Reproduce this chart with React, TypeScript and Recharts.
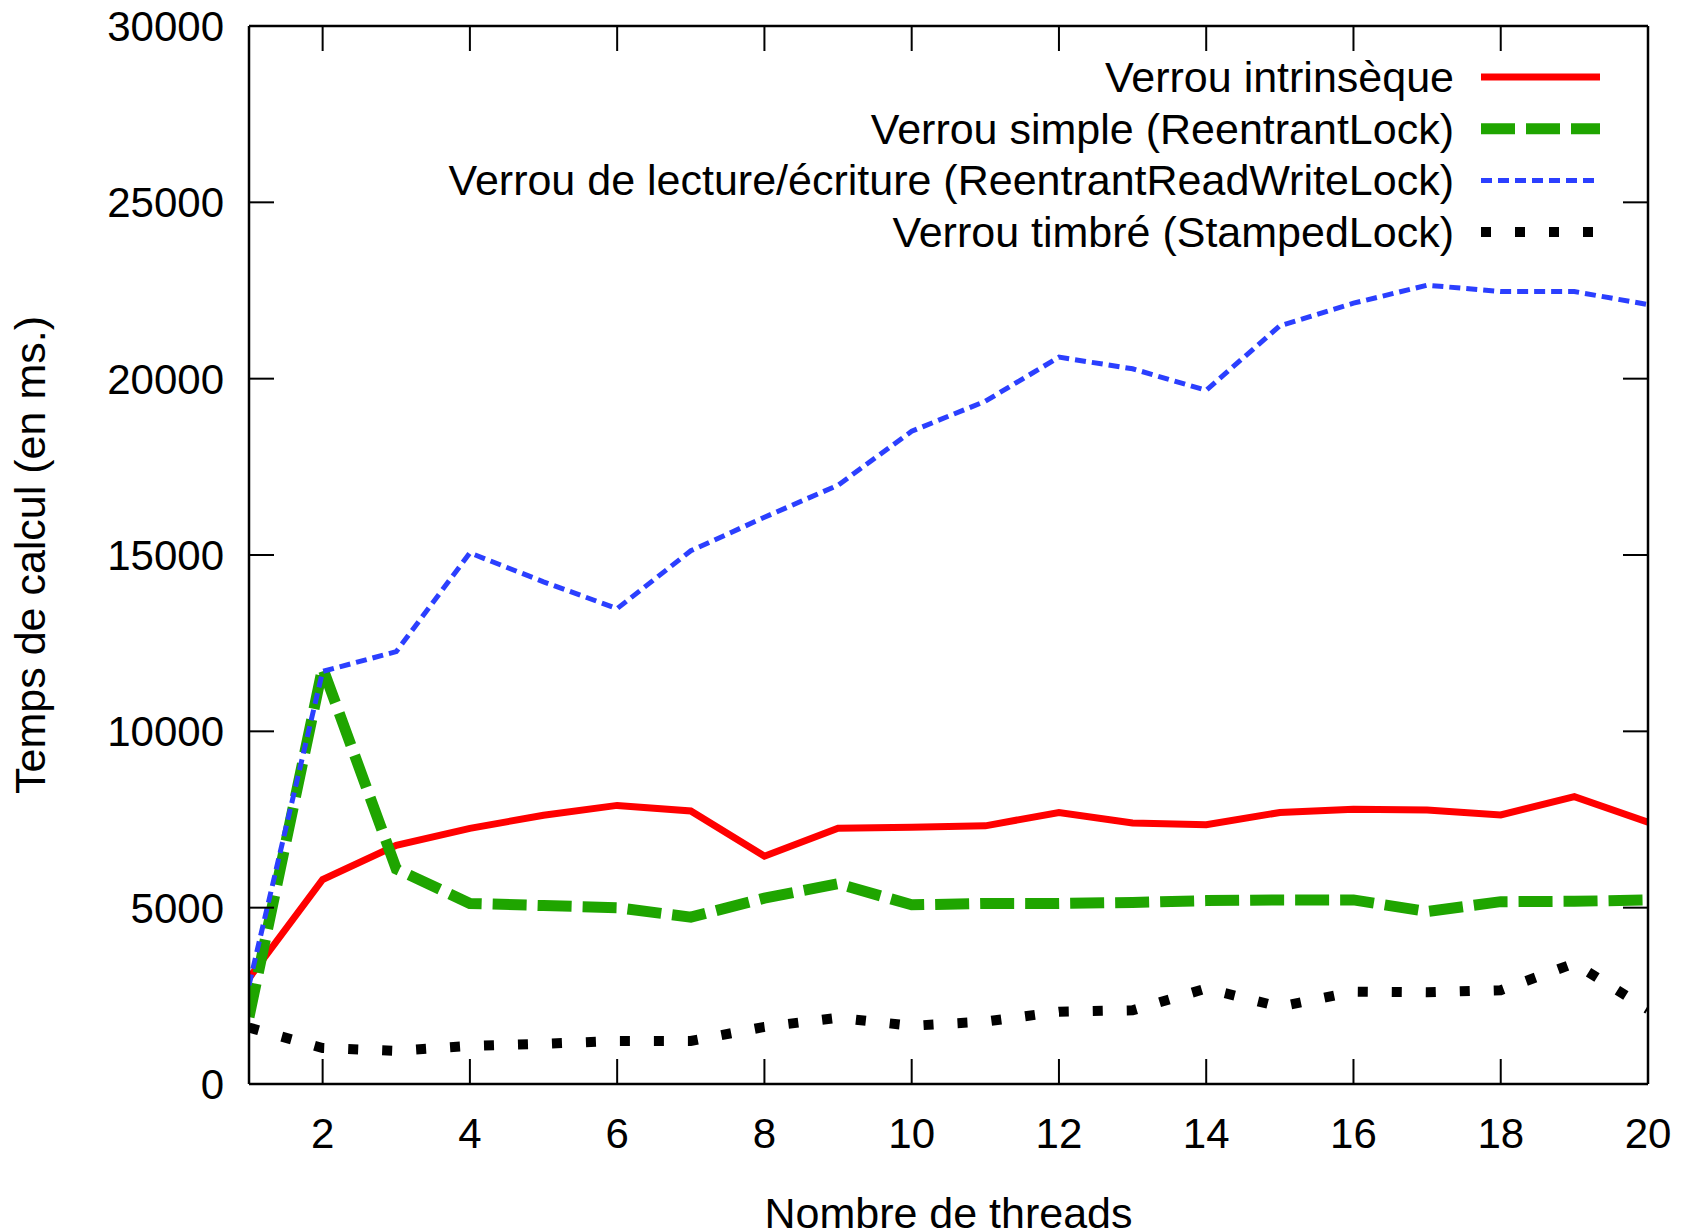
import React from "react";
import { LineChart, Line, XAxis, YAxis } from "recharts";

const threads = [1, 2, 3, 4, 5, 6, 7, 8, 9, 10, 11, 12, 13, 14, 15, 16, 17, 18, 19, 20];
const intrinsic = [3000, 5800, 6770, 7250, 7620, 7900, 7740, 6460, 7250, 7280, 7320, 7700, 7400, 7350, 7700, 7790, 7770, 7630, 8150, 7420];
const simple = [1900, 11800, 6100, 5120, 5060, 5000, 4730, 5270, 5680, 5080, 5120, 5120, 5150, 5200, 5220, 5220, 4890, 5170, 5180, 5220];
const readWrite = [2800, 11700, 12260, 15060, 14240, 13480, 15120, 16070, 16980, 18510, 19360, 20610, 20280, 19670, 21500, 22140, 22650, 22470, 22470, 22100];
const stamped = [1600, 1020, 940, 1080, 1140, 1220, 1220, 1620, 1880, 1650, 1770, 2050, 2090, 2710, 2190, 2620, 2600, 2660, 3420, 2120];

const xTicks = [2, 4, 6, 8, 10, 12, 14, 16, 18, 20];
const yTicks = [0, 5000, 10000, 15000, 20000, 25000, 30000];

const seriesLabels = [
  "Verrou intrinsèque",
  "Verrou simple (ReentrantLock)",
  "Verrou de lecture/écriture (ReentrantReadWriteLock)",
  "Verrou timbré (StampedLock)",
];
const xTitle = "Nombre de threads";
const yTitle = "Temps de calcul (en ms.)";

const FONT = "'Liberation Sans', Arial, sans-serif";

const series = [
  { key: "intrinsic", color: "#ff0000", width: 7, dash: undefined as string | undefined },
  { key: "simple", color: "#1fa500", width: 11, dash: "34 11" },
  { key: "readWrite", color: "#2b3fff", width: 5, dash: "11 6" },
  { key: "stamped", color: "#000000", width: 10, dash: "10 24" },
];

const data = threads.map((t, i) => ({
  t,
  intrinsic: intrinsic[i],
  simple: simple[i],
  readWrite: readWrite[i],
  stamped: stamped[i],
}));

const W = 1686;
const H = 1232;
const PL = 249;
const PR = 1648;
const PT = 26;
const PB = 1084;

const axisLine = { stroke: "#000", strokeWidth: 2.5 };
const tickLine = { stroke: "#000", strokeWidth: 2 };
const NoLabel = () => <g />;

export default function App() {
  return (
    <div style={{ position: "absolute", left: 0, top: 0, width: W, height: H, background: "#fff" }}>
      <LineChart
        width={W}
        height={H}
        data={data}
        margin={{ top: PT - 1, right: W - PR - 1, bottom: 0, left: 0 }}
      >
        <XAxis
          dataKey="t"
          type="number"
          domain={[1, 20]}
          ticks={xTicks}
          height={H - PB}
          tickSize={-25}
          tickMargin={59}
          axisLine={axisLine}
          tickLine={tickLine}
          tick={{ fill: "#000", fontSize: 42, fontFamily: FONT }}
          allowDataOverflow
        />
        <XAxis
          xAxisId="top"
          orientation="top"
          dataKey="t"
          type="number"
          domain={[1, 20]}
          ticks={xTicks}
          height={1}
          tickSize={-25}
          tick={NoLabel}
          axisLine={axisLine}
          tickLine={tickLine}
          allowDataOverflow
        />
        <YAxis
          type="number"
          domain={[0, 30000]}
          ticks={yTicks}
          width={PL}
          tickSize={-25}
          tickMargin={50}
          axisLine={axisLine}
          tickLine={tickLine}
          tick={{ fill: "#000", fontSize: 42, fontFamily: FONT }}
          allowDataOverflow
        />
        <YAxis
          yAxisId="right"
          orientation="right"
          type="number"
          domain={[0, 30000]}
          ticks={yTicks}
          width={1}
          tickSize={-25}
          tick={NoLabel}
          axisLine={axisLine}
          tickLine={tickLine}
          allowDataOverflow
        />
        {series.map((s) => (
          <Line
            key={s.key}
            dataKey={s.key}
            type="linear"
            stroke={s.color}
            strokeWidth={s.width}
            strokeDasharray={s.dash}
            strokeLinejoin="miter"
            strokeLinecap="butt"
            dot={false}
            activeDot={false}
            isAnimationActive={false}
          />
        ))}
      </LineChart>
      <svg
        width={W}
        height={H}
        style={{ position: "absolute", left: 0, top: 0, pointerEvents: "none" }}
      >
        {series.map((s, i) => {
          const y = 77 + i * 51.7;
          return (
            <g key={s.key}>
              <text
                x={1454}
                y={y}
                textAnchor="end"
                dominantBaseline="central"
                fontSize={43}
                fontFamily={FONT}
                fill="#000"
              >
                {seriesLabels[i]}
              </text>
              <line
                x1={1481}
                x2={1600}
                y1={y}
                y2={y}
                stroke={s.color}
                strokeWidth={s.width}
                strokeDasharray={s.dash}
              />
            </g>
          );
        })}
        <text
          x={(PL + PR) / 2}
          y={1228}
          textAnchor="middle"
          fontSize={43}
          fontFamily={FONT}
          fill="#000"
        >
          {xTitle}
        </text>
        <text
          x={0}
          y={0}
          transform={`translate(45, ${(PT + PB) / 2}) rotate(-90)`}
          textAnchor="middle"
          fontSize={43}
          fontFamily={FONT}
          fill="#000"
        >
          {yTitle}
        </text>
      </svg>
    </div>
  );
}
